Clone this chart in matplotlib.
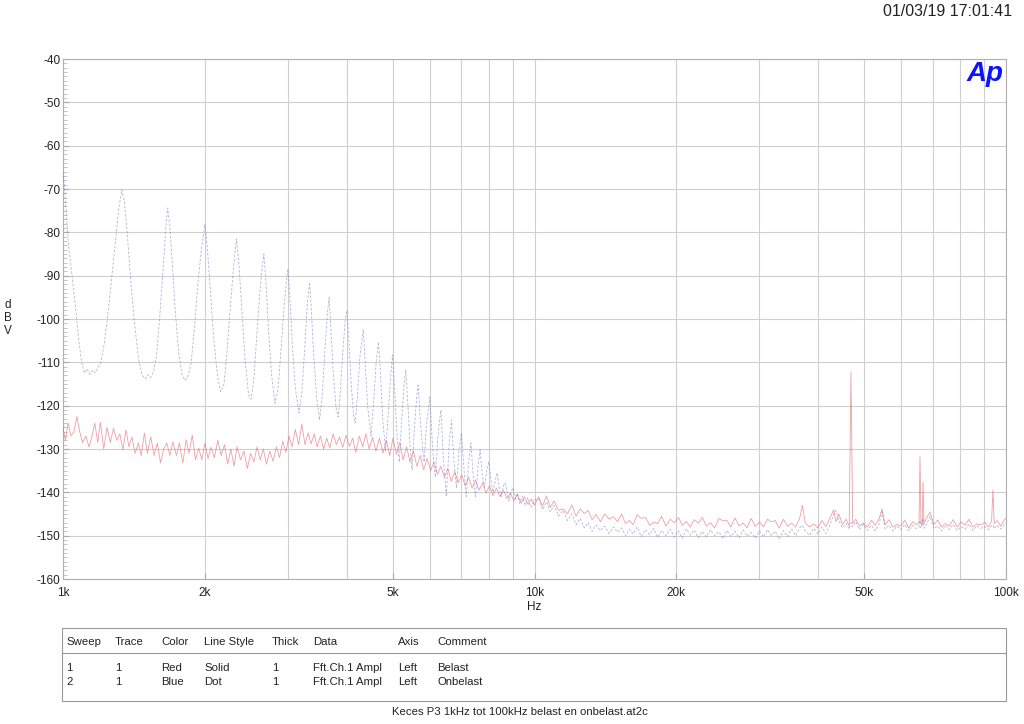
import matplotlib
matplotlib.use("Agg")
import matplotlib.pyplot as plt
from matplotlib.patches import Rectangle
from matplotlib.lines import Line2D
from matplotlib.ticker import FixedLocator, NullFormatter, MultipleLocator

plt.rcParams['font.family'] = ['Liberation Sans', 'DejaVu Sans']
plt.rcParams['axes.unicode_minus'] = False

# --- data (Hz, dBV) ---
# Red, "Belast", 1k - 10k
red_lf_freq = [1000, 1012, 1025, 1040, 1055, 1070, 1085, 1100, 1118, 1135,
               1150, 1168, 1185, 1200, 1220, 1240, 1260, 1280, 1300, 1320,
               1340, 1360, 1380, 1400, 1422, 1445, 1465, 1488, 1510, 1535,
               1560, 1585, 1610, 1635, 1660, 1685, 1710, 1740, 1765, 1795,
               1825, 1850, 1880, 1910, 1940, 1970, 2000, 2030, 2060, 2095,
               2130, 2165, 2200, 2235, 2270, 2305, 2340, 2380, 2420, 2460,
               2500, 2540, 2580, 2620, 2660, 2700, 2745, 2790, 2835, 2880,
               2925, 2970, 3015, 3060, 3110, 3160, 3210, 3260, 3310, 3360,
               3410, 3460, 3515, 3570, 3625, 3680, 3740, 3800, 3860, 3920,
               3985, 4050, 4115, 4180, 4250, 4320, 4390, 4460, 4535, 4610,
               4690, 4770, 4850, 4930, 5010, 5095, 5180, 5265, 5355, 5445,
               5535, 5630, 5725, 5820, 5920, 6020, 6120, 6225, 6330, 6440,
               6550, 6660, 6775, 6890, 7010, 7130, 7250, 7375, 7500, 7630,
               7760, 7890, 8030, 8165, 8305, 8450, 8595, 8740, 8890, 9045,
               9200, 9360, 9520, 9685, 9850, 10000]
red_lf_db = [-125, -128, -124, -127, -126, -122.5, -126, -128.5, -127, -129.5,
             -127.5, -124, -128.5, -123.8, -130, -125, -128.5, -125.2, -128, -126.5,
             -130.2, -125.6, -129.5, -127.2, -131, -128.6, -131.5, -126.3, -131, -127.2,
             -131.5, -128.6, -133.2, -130, -128.6, -131.5, -128.4, -131.5, -128.6, -133.2,
             -127.9, -131, -126.8, -132.5, -129.8, -132.5, -128.6, -132.2, -129.6, -132,
             -128, -131.5, -129, -133.5, -130, -134, -129.5, -132.5, -130.5, -134.5,
             -131, -133, -129.5, -132.5, -130, -133.5, -130.5, -132.8, -129.5, -132,
             -128.2, -130.8, -127, -129.5, -125.5, -129, -124.2, -129, -126.3, -128.8,
             -126.5, -129.5, -127, -130, -127.5, -129.8, -126.5, -129, -127.2, -129.6,
             -126.8, -129.4, -127.5, -130.8, -127, -129.5, -126.5, -130, -127.3, -130.5,
             -127.5, -131, -128, -131.5, -127.5, -131.2, -128.5, -132.5, -129.5, -133,
             -130.5, -134, -131.5, -134.8, -132.2, -135, -133, -135.8, -134, -136.5,
             -134.5, -137.5, -135.2, -137.8, -136, -138.5, -136.5, -139, -137.2, -139.5,
             -137.8, -140.2, -138.5, -140.8, -139, -141, -139.5, -141.5, -140.2, -142,
             -140.5, -142.5, -141, -142.8, -141.5, -143]

# Blue, "Onbelast", 1k - 10k (harmonic comb)
blue_lf_freq = [1000, 1008, 1018, 1030, 1045, 1060, 1078, 1095, 1110, 1125,
                1140, 1155, 1170, 1185, 1200, 1222, 1245, 1270, 1295, 1315,
                1333, 1350, 1370, 1392, 1418, 1445, 1472, 1495, 1515, 1535,
                1558, 1580, 1605, 1632, 1652, 1667, 1683, 1705, 1730, 1760,
                1790, 1818, 1845, 1870, 1900, 1932, 1965, 2000, 2025, 2055,
                2090, 2125, 2160, 2195, 2230, 2265, 2300, 2333, 2360, 2395,
                2435, 2475, 2505, 2540, 2575, 2615, 2645, 2667, 2692, 2730,
                2770, 2815, 2860, 2900, 2940, 2975, 3000, 3025, 3065, 3110,
                3165, 3210, 3255, 3295, 3333, 3360, 3400, 3450, 3500, 3545,
                3590, 3635, 3667, 3695, 3745, 3795, 3833, 3875, 3925, 3970,
                4000, 4035, 4085, 4135, 4167, 4210, 4260, 4333, 4370, 4425,
                4500, 4560, 4615, 4667, 4705, 4765, 4833, 4895, 4955, 5000,
                5050, 5110, 5167, 5230, 5290, 5333, 5390, 5450, 5500, 5565,
                5625, 5667, 5730, 5800, 5833, 5895, 5955, 6000, 6060, 6120,
                6167, 6230, 6290, 6333, 6400, 6500, 6600, 6667, 6760, 6833,
                6920, 7000, 7090, 7167, 7250, 7333, 7420, 7500, 7590, 7667,
                7750, 7833, 7920, 8000, 8080, 8167, 8250, 8333, 8420, 8500,
                8590, 8667, 8750, 8833, 8920, 9000, 9100, 9200, 9300, 9420,
                9550, 9680, 9820, 10000]
blue_lf_db = [-66, -70, -77, -84, -90, -96, -104, -110, -112.5, -111.5,
              -112.8, -111.8, -112.4, -111.2, -110.5, -106, -99, -90, -81, -74,
              -70.2, -73, -81, -91, -101, -109, -113, -113.8, -112.8, -113.5,
              -112, -108, -99, -88, -79, -74.4, -78, -87, -98, -108,
              -113, -114.2, -113, -110, -102, -92, -84, -78.1, -84, -94,
              -105, -113, -116.8, -115, -107, -97, -88, -81.5, -87, -98,
              -110, -117.5, -118.5, -114, -104, -94, -88, -85, -91, -103,
              -113, -119.5, -116, -107, -98, -91.5, -88.5, -94, -106, -116,
              -121.7, -117, -107, -97, -91.5, -97, -108, -118, -123.3, -118,
              -108, -99, -95, -101, -113, -120.5, -122.6, -117, -107, -100,
              -98, -104, -115, -122.5, -124, -118, -109, -102.5, -109, -120,
              -127, -119, -110, -105.3, -111, -123, -130.5, -122, -113, -108.3,
              -116, -127, -133, -123, -115, -111.8, -120, -130, -134.8, -125,
              -118, -115.3, -124, -131, -133, -125, -121, -118, -127, -134,
              -136.5, -128, -123.5, -121, -131, -141, -128, -123.3, -134, -139,
              -130, -126.3, -135, -141, -133, -128.6, -137, -141, -134, -130.2,
              -136, -138.8, -135, -133, -137, -140, -137.5, -135.5, -139, -141,
              -138.5, -137.8, -140, -142, -139.8, -139, -141.5, -140.2, -142.5, -140.8,
              -143, -141.2, -143.5, -141.8]

# both traces, 10k - 100k
hf_freq = [10200, 10400, 10600, 10800, 11000, 11250, 11500, 11750, 12000, 12250,
           12500, 12750, 13000, 13250, 13500, 13800, 14100, 14400, 14700, 15000,
           15300, 15600, 15900, 16200, 16500, 16850, 17200, 17550, 17900, 18250,
           18600, 19000, 19400, 19800, 20200, 20600, 21000, 21400, 21800, 22250,
           22700, 23150, 23600, 24100, 24600, 25100, 25600, 26100, 26600, 27150,
           27700, 28250, 28800, 29400, 30000, 30600, 31200, 31800, 32400, 33050,
           33700, 34400, 35100, 35800, 36500, 37000, 37500, 38300, 39100, 39900,
           40700, 41500, 42300, 43100, 43600, 44200, 45000, 45800, 46500, 46900,
           47300, 48000, 48900, 49800, 50800, 51800, 52800, 53800, 54600, 55400,
           56500, 57600, 58700, 59800, 61000, 62200, 63400, 64600, 65400, 65700,
           66000, 66400, 66700, 67000, 67800, 69000, 70300, 71600, 73000, 74400,
           75800, 77300, 78800, 80300, 81900, 83500, 85100, 86700, 88400, 90100,
           91800, 93200, 93800, 94400, 95700, 97500, 99300, 100000]
red_hf_db = [-141.0, -143.2, -140.8, -143.5, -142.0, -144.2, -143.8, -145.0, -142.9, -145.5,
             -143.8, -144.9, -144.2, -146.3, -145.1, -146.8, -145.0, -146.2, -145.6, -146.8,
             -145.0, -147.2, -146.5, -147.5, -145.2, -146.0, -145.8, -147.6, -146.9, -147.2,
             -145.5, -147.8, -146.2, -147.0, -145.8, -147.6, -146.7, -148.0, -146.3, -147.1,
             -145.8, -147.8, -147.0, -148.2, -146.0, -146.6, -146.5, -148.0, -145.9, -147.7,
             -147.1, -148.2, -146.0, -147.8, -146.9, -148.0, -146.2, -146.8, -146.5, -148.3,
             -146.2, -147.8, -147.1, -148.0, -146.0, -143.0, -147.0, -148.0, -147.3, -148.2,
             -146.5, -147.9, -146.0, -144.0, -146.8, -145.0, -147.4, -146.2, -147.8, -112.2,
             -147.2, -146.2, -147.8, -147.1, -148.0, -146.4, -147.6, -146.1, -143.8, -147.5,
             -146.3, -148.0, -147.4, -147.8, -146.4, -148.2, -146.8, -147.5, -147.0, -131.6,
             -146.8, -147.6, -137.6, -147.2, -146.0, -144.5, -147.5, -146.4, -148.0, -147.2,
             -147.8, -146.3, -148.0, -146.8, -147.6, -146.2, -148.0, -147.3, -147.5, -146.9,
             -148.0, -146.6, -139.5, -147.2, -146.5, -147.8, -146.2, -146.0]
blue_hf_db = [-141.5, -144.0, -142.2, -144.5, -143.0, -145.5, -144.2, -146.5, -145.0, -147.5,
              -146.0, -148.2, -147.0, -149.0, -147.5, -148.8, -147.8, -149.5, -148.0, -149.2,
              -148.2, -150.0, -148.5, -149.6, -148.0, -150.2, -148.6, -149.8, -148.3, -150.4,
              -148.8, -150.0, -148.5, -150.3, -148.9, -150.6, -148.4, -149.9, -148.7, -150.5,
              -149.0, -150.3, -148.6, -150.0, -149.1, -150.7, -148.8, -150.2, -149.0, -150.5,
              -148.7, -150.1, -149.2, -150.6, -148.9, -150.3, -148.6, -150.0, -149.0, -150.8,
              -148.8, -150.2, -148.5, -150.0, -148.2, -147.6, -148.8, -149.9, -148.3, -149.6,
              -148.0, -149.5, -147.6, -145.0, -144.2, -146.5, -148.2, -147.2, -148.5, -147.0,
              -148.0, -146.8, -148.6, -147.4, -148.8, -147.6, -148.9, -147.3, -144.5, -148.4,
              -147.6, -148.9, -147.8, -148.6, -147.4, -148.9, -147.6, -148.4, -148.0, -146.5,
              -148.2, -147.4, -146.0, -148.3, -147.5, -145.5, -148.4, -147.8, -148.9, -147.6,
              -148.6, -147.4, -148.8, -147.9, -148.5, -147.3, -148.8, -147.7, -148.3, -147.9,
              -148.6, -147.7, -147.5, -148.4, -147.6, -148.5, -147.4, -147.0]

x_major = [1000, 2000, 5000, 10000, 20000, 50000, 100000]
x_labels = ['1k', '2k', '5k', '10k', '20k', '50k', '100k']
x_minor = [3000, 4000, 6000, 7000, 8000, 9000, 30000, 40000, 60000, 70000, 80000, 90000]

table_header = ['Sweep', 'Trace', 'Color', 'Line Style', 'Thick', 'Data', 'Axis', 'Comment']
table_rows = [['1', '1', 'Red', 'Solid', '1', 'Fft.Ch.1 Ampl', 'Left', 'Belast'],
              ['2', '1', 'Blue', 'Dot', '1', 'Fft.Ch.1 Ampl', 'Left', 'Onbelast']]
col_px = [66, 115, 161, 204, 272, 313, 398, 437]

W, H = 1024, 724
fig = plt.figure(figsize=(W / 100, H / 100), dpi=100)
ax = fig.add_axes([63 / W, 1 - 579 / H, (1006 - 63) / W, (579 - 59) / H])

ax.plot(red_lf_freq + hf_freq, red_lf_db + red_hf_db, color='#e2606a',
        lw=0.6, alpha=0.6, zorder=3)
ax.plot(blue_lf_freq + hf_freq, blue_lf_db + blue_hf_db, color='#6666b8',
        lw=0.6, alpha=0.5, dashes=(3, 2), zorder=4)

ax.set_xscale('log')
ax.set_xlim(1000, 100000)
ax.set_ylim(-160, -40)
ax.xaxis.set_major_locator(FixedLocator(x_major))
ax.xaxis.set_minor_locator(FixedLocator(x_minor))
ax.set_xticklabels(x_labels)
ax.xaxis.set_minor_formatter(NullFormatter())
ax.yaxis.set_major_locator(MultipleLocator(10))
ax.yaxis.set_minor_locator(MultipleLocator(1))

ax.grid(True, which='both', axis='x', color='#cfcfcf', lw=0.8)
ax.grid(True, which='major', axis='y', color='#cfcfcf', lw=0.8)
ax.tick_params(axis='both', which='major', direction='in', length=4,
               color='#aaaaaa', labelsize=8.5, labelcolor='#222222')
ax.tick_params(axis='y', which='minor', direction='in', length=3, color='#bbbbbb')
ax.tick_params(axis='x', which='minor', direction='in', length=0)
ax.tick_params(axis='y', which='major', pad=2)
ax.tick_params(axis='x', which='major', pad=6)
for s in ax.spines.values():
    s.set_color('#b0b0b0')
    s.set_linewidth(0.8)

# axis titles
fig.text(8 / W, 1 - 318 / H, 'd\nB\nV', ha='center', va='center',
         fontsize=8.5, linespacing=1.15, color='#222222')
fig.text(534 / W, 1 - 607 / H, 'Hz', ha='center', va='center',
         fontsize=8.5, color='#222222')

# timestamp and logo
fig.text(1012 / W, 1 - 12 / H, '01/03/19 17:01:41', ha='right', va='center',
         fontsize=11.5, color='#222222')
fig.text(985 / W, 1 - 74 / H, 'Ap', ha='center', va='center', fontsize=20,
         fontweight='bold', fontstyle='italic', color='#0a14ff')

# legend table
fig.patches.append(Rectangle((62 / W, 1 - 701 / H), (1006 - 62) / W, 73 / H,
                             transform=fig.transFigure, fill=False,
                             edgecolor='#999999', lw=0.8))
fig.lines.append(Line2D([62 / W, 1006 / W], [1 - 653 / H, 1 - 653 / H],
                        transform=fig.transFigure, color='#999999', lw=0.8))
for cx, h in zip(col_px, table_header):
    fig.text(cx / W, 1 - 642 / H, h, ha='left', va='center', fontsize=8.2,
             color='#222222')
for ry, row in zip([668, 682], table_rows):
    for cx, v in zip(col_px, row):
        fig.text(cx / W, 1 - ry / H, v, ha='left', va='center', fontsize=8.2,
                 color='#222222')

fig.text(520 / W, 1 - 712 / H, 'Keces P3 1kHz tot 100kHz belast en onbelast.at2c',
         ha='center', va='center', fontsize=8.2, color='#222222')

fig.savefig('out.png', dpi=100)
